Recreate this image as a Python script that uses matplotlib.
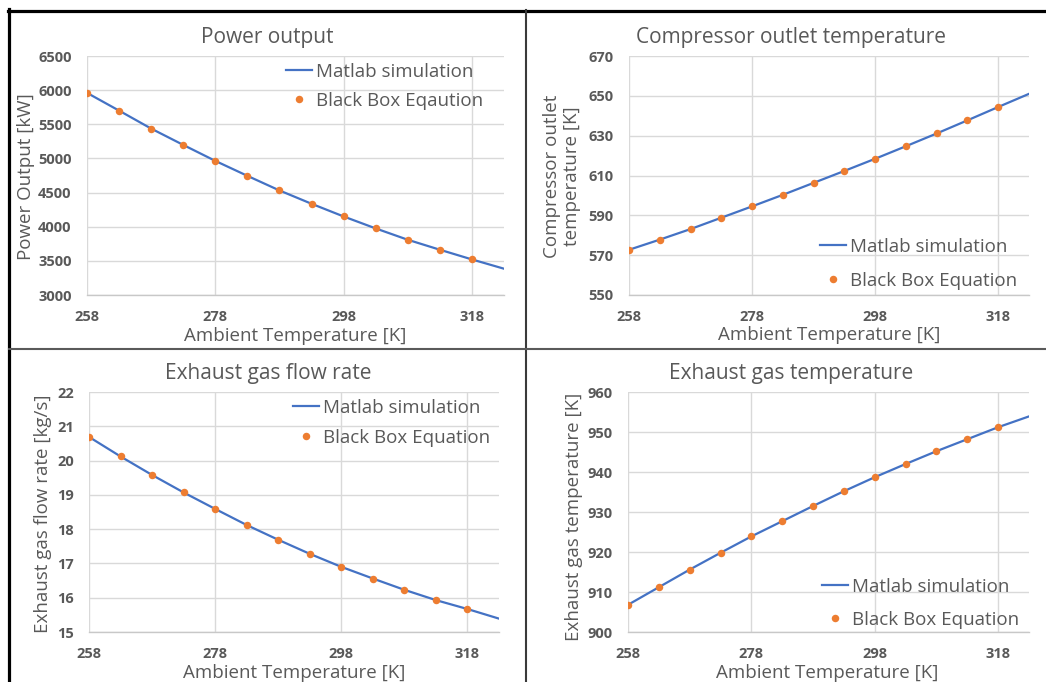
import matplotlib
matplotlib.use("Agg")
import matplotlib.pyplot as plt
from matplotlib.lines import Line2D

plt.rcParams['font.family'] = ['Open Sans', 'DejaVu Sans']

# ---------------- data ----------------
temp_points = [258, 263, 268, 273, 278, 283, 288, 293, 298, 303, 308, 313, 318]
temp_line = [258, 263, 268, 273, 278, 283, 288, 293, 298, 303, 308, 313, 318, 323]

power_sim = [5960, 5700, 5437, 5198, 4964, 4745, 4531, 4336, 4150, 3975, 3809, 3663, 3521, 3385]
power_box = [5960, 5700, 5437, 5198, 4964, 4745, 4531, 4336, 4150, 3975, 3809, 3663, 3521]

comp_sim = [572.7, 577.8, 583.1, 588.8, 594.5, 600.3, 606.3, 612.3, 618.4, 624.7, 631.1, 637.7, 644.4, 651.0]
comp_box = [572.7, 577.8, 583.1, 588.8, 594.5, 600.3, 606.3, 612.3, 618.4, 624.7, 631.1, 637.7, 644.4]

flow_sim = [20.69, 20.12, 19.58, 19.07, 18.59, 18.12, 17.69, 17.28, 16.90, 16.56, 16.23, 15.93, 15.67, 15.39]
flow_box = [20.69, 20.12, 19.58, 19.07, 18.59, 18.12, 17.69, 17.28, 16.90, 16.56, 16.23, 15.93, 15.67]

exh_sim = [906.8, 911.2, 915.6, 919.8, 923.9, 927.7, 931.5, 935.2, 938.7, 942.0, 945.2, 948.2, 951.2, 953.9]
exh_box = [906.8, 911.2, 915.6, 919.8, 923.9, 927.7, 931.5, 935.2, 938.7, 942.0, 945.2, 948.2, 951.2]

x_ticks = [258, 278, 298, 318]
power_ticks = [3000, 3500, 4000, 4500, 5000, 5500, 6000, 6500]
comp_ticks = [550, 570, 590, 610, 630, 650, 670]
flow_ticks = [15, 16, 17, 18, 19, 20, 21, 22]
exh_ticks = [900, 910, 920, 930, 940, 950, 960]

titles = ["Power output", "Compressor outlet temperature",
          "Exhaust gas flow rate", "Exhaust gas temperature"]
ylabels = ["Power Output [kW]", "Compressor outlet\ntemperature [K]",
           "Exhaust gas flow rate [kg/s]", "Exhaust gas temperature [K]"]
xlabel = "Ambient Temperature [K]"
legend_sim = "Matlab simulation"
legend_box = ["Black Box Eqaution", "Black Box Equation",
              "Black Box Equation", "Black Box Equation"]

# ---------------- layout ----------------
W, H = 1046, 682
fig = plt.figure(figsize=(W / 100, H / 100), dpi=100)
fig.patch.set_facecolor('white')

def fx(x):
    return x / W

def fy(y):
    return 1 - y / H

GRAY = '#595959'
BLUE = '#4472C4'
ORANGE = '#ED7D31'
GRID = '#d9d9d9'

panels = [
    dict(box=(87, 56, 504, 295), sim=power_sim, pts=power_box, ticks=power_ticks,
         title=(267, 37), xl=(295, 336), yl=(26, 177),
         leg=(286, 63), ls=0.58),
    dict(box=(629, 56, 1029, 295), sim=comp_sim, pts=comp_box, ticks=comp_ticks,
         title=(791, 37), xl=(829, 335), yl=(562, 176),
         leg=(820, 238), ls=0.84),
    dict(box=(89, 392, 499, 632), sim=flow_sim, pts=flow_box, ticks=flow_ticks,
         title=(268, 374), xl=(294, 673), yl=(43, 514),
         leg=(293, 399), ls=0.63),
    dict(box=(628, 392, 1029, 632), sim=exh_sim, pts=exh_box, ticks=exh_ticks,
         title=(791, 374), xl=(827, 673), yl=(574, 517),
         leg=(822, 578), ls=0.79),
]

for i, p in enumerate(panels):
    x0, y0, x1, y1 = p['box']
    ax = fig.add_axes([fx(x0), fy(y1), fx(x1 - x0), (y1 - y0) / H])
    ax.plot(temp_line, p['sim'], color=BLUE, lw=1.6, label=legend_sim, zorder=3)
    ax.plot(temp_points, p['pts'], 'o', color=ORANGE, ms=5.4, mew=0,
            label=legend_box[i], zorder=4)
    ax.set_xlim(258, 323)
    ax.set_ylim(p['ticks'][0], p['ticks'][-1])
    ax.set_xticks(x_ticks)
    ax.set_yticks(p['ticks'])
    ax.grid(True, color=GRID, lw=1.0, zorder=0)
    ax.set_axisbelow(True)
    for s in ['top', 'right', 'left']:
        ax.spines[s].set_visible(False)
    ax.spines['bottom'].set_color('#c8c8c8')
    ax.spines['bottom'].set_linewidth(1.0)
    ax.tick_params(axis='both', length=0, colors=GRAY, labelsize=10.5, pad=11)
    for lab in ax.get_xticklabels() + ax.get_yticklabels():
        lab.set_fontweight('bold')

    fig.text(fx(p['title'][0]), fy(p['title'][1]), titles[i], ha='center',
             va='center', fontsize=15, color=GRAY)
    fig.text(fx(p['xl'][0]), fy(p['xl'][1]), xlabel, ha='center', va='center',
             fontsize=13.5, color=GRAY)
    fig.text(fx(p['yl'][0]), fy(p['yl'][1]), ylabels[i], ha='center',
             va='center', rotation=90, fontsize=13.5, color=GRAY,
             linespacing=1.15)

    leg = ax.legend(loc='upper left', bbox_to_anchor=(fx(p['leg'][0]), fy(p['leg'][1])),
                    bbox_transform=fig.transFigure, frameon=False, fontsize=13.5,
                    borderpad=0, borderaxespad=0, handlelength=1.4,
                    handletextpad=0.2, labelspacing=p['ls'])
    for t in leg.get_texts():
        t.set_color(GRAY)

# ---------------- table borders ----------------
def hline(y, xa, xb, color, lw):
    fig.add_artist(Line2D([fx(xa), fx(xb)], [fy(y), fy(y)], color=color, lw=lw,
                          transform=fig.transFigure))

def vline(x, ya, yb, color, lw):
    fig.add_artist(Line2D([fx(x), fx(x)], [fy(ya), fy(yb)], color=color, lw=lw,
                          transform=fig.transFigure))

hline(10.7, 7.5, W, 'black', 2.3)
vline(9, 9, H, 'black', 2.3)
vline(526, 10, H, '#3a3a3a', 1.5)
hline(349, 9, W, '#5a5a5a', 1.5)

fig.savefig('out.png', dpi=100, facecolor='white')
